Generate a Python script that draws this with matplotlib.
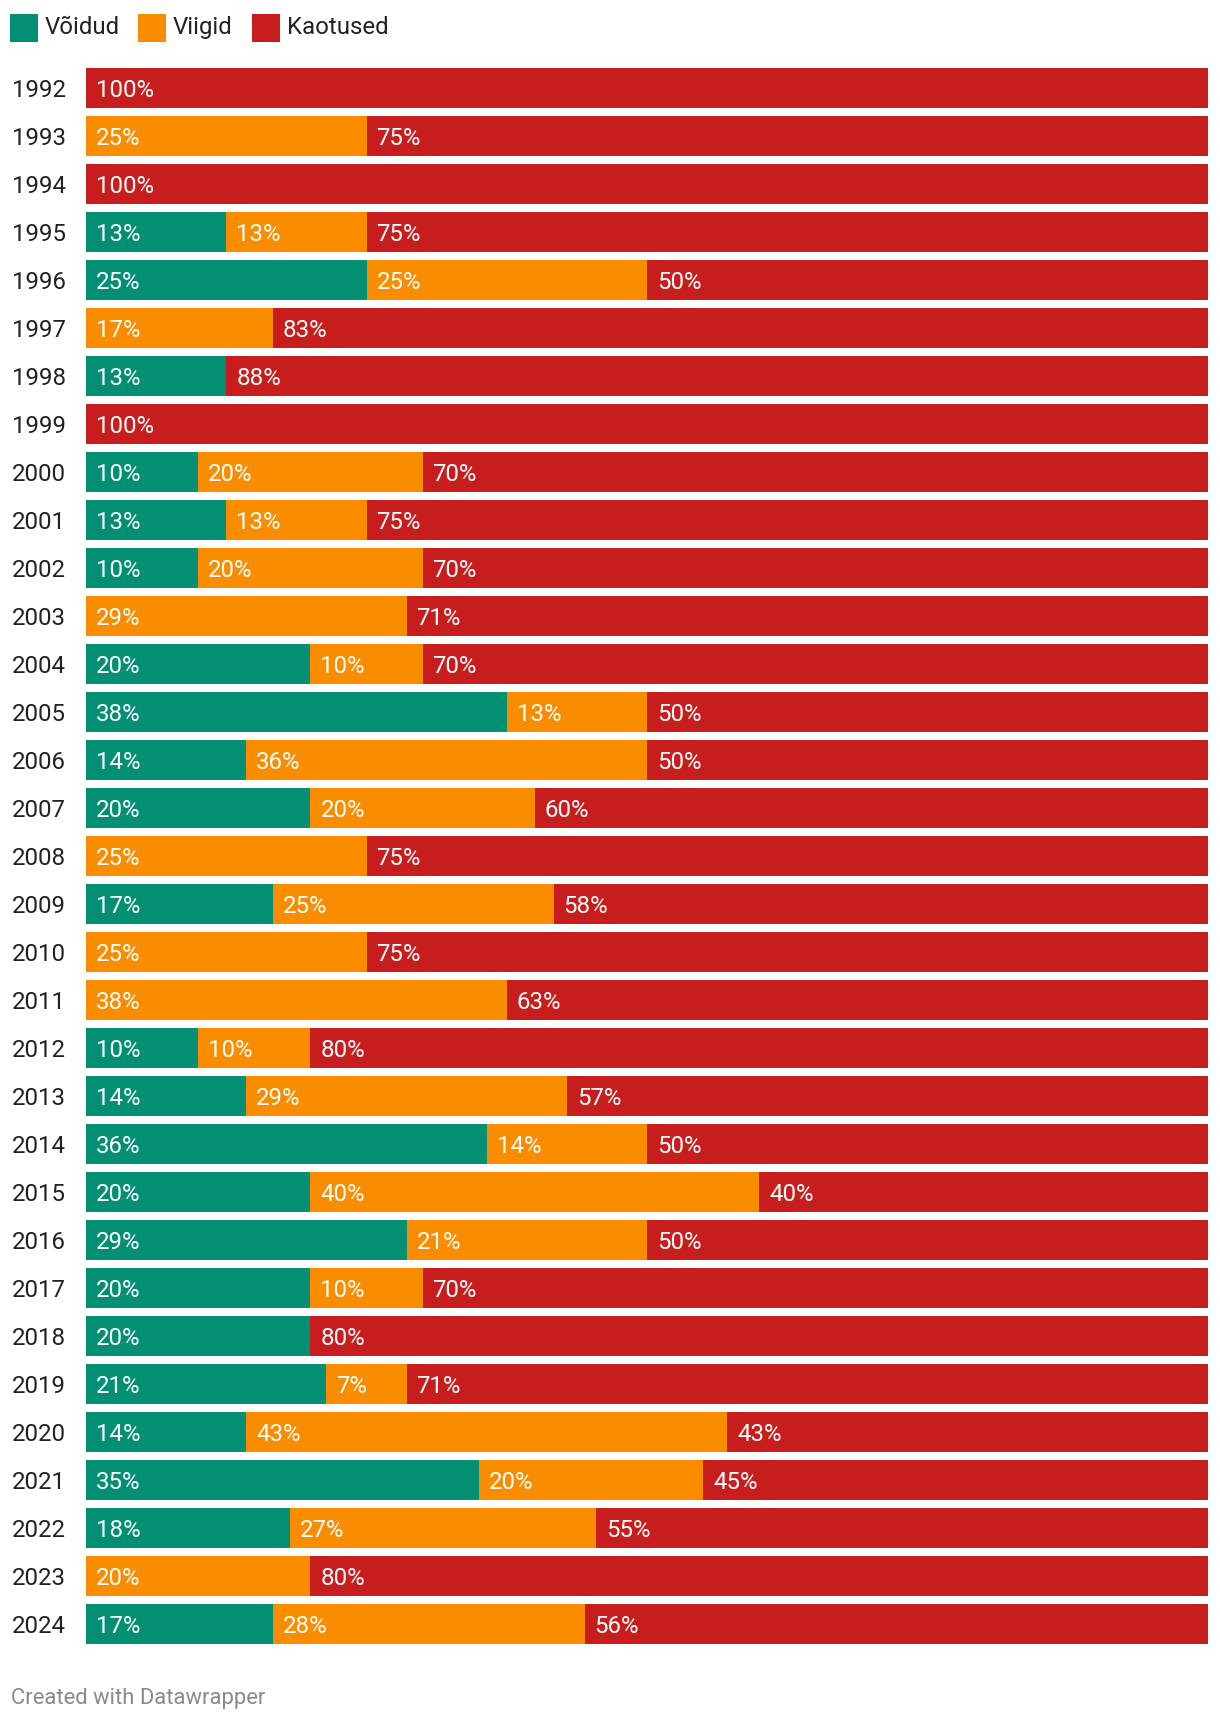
import matplotlib

matplotlib.use("Agg")
import matplotlib.pyplot as plt
import matplotlib.transforms as mtransforms
from matplotlib.patches import Rectangle

plt.rcParams["font.family"] = ["Roboto", "DejaVu Sans"]

years = list(range(1992, 2025))
# game counts per year: wins, draws, losses
wins = [0, 0, 0, 1, 1, 0, 1, 0, 1, 1, 1, 0, 2, 3, 2, 1, 0, 2, 0, 0, 1, 1, 5, 1, 4, 2, 1, 3, 1, 7, 2, 0, 3]
draws = [0, 1, 0, 1, 1, 1, 0, 0, 2, 1, 2, 2, 1, 1, 5, 1, 1, 3, 1, 3, 1, 2, 2, 2, 3, 1, 0, 1, 3, 4, 3, 1, 5]
losses = [1, 3, 1, 6, 2, 5, 7, 1, 7, 6, 7, 5, 7, 4, 7, 3, 3, 7, 3, 5, 8, 4, 7, 2, 7, 7, 4, 10, 3, 9, 6, 4, 10]

series_names = ["Võidud", "Viigid", "Kaotused"]
colors = ["#038f74", "#fa8c00", "#c71e1d"]

W, H = 1220, 1722
fig = plt.figure(figsize=(W / 100, H / 100), dpi=100)

bar_h = 40 / 48
n = len(years)
top_px, bot_px = 68, 68 + (n - 1) * 48 + 40
ax = fig.add_axes([86 / W, (H - bot_px) / H, (1208 - 86) / W, (bot_px - top_px) / H])
ax.set_xlim(0, 100)
ax.set_ylim(n - 1 + bar_h / 2, -bar_h / 2)
ax.axis("off")

FS = 17.3
for i, yr in enumerate(years):
    total = wins[i] + draws[i] + losses[i]
    left = 0.0
    for vals, col in zip([wins, draws, losses], colors):
        pct = vals[i] / total * 100
        if pct <= 0:
            continue
        ax.barh(i, pct, left=left, height=bar_h, color=col, linewidth=0)
        lab = f"{int(pct + 0.5)}%"
        ax.annotate(lab, xy=(left, i), xytext=(10, 0), textcoords="offset pixels",
                    ha="left", va="center_baseline", fontsize=FS, color="white")
        left += pct

trans = mtransforms.blended_transform_factory(fig.transFigure, ax.transData)
for i, yr in enumerate(years):
    ax.text(12 / W, i, str(yr), transform=trans, ha="left", va="center_baseline",
            fontsize=FS, color="#222222")

# legend
leg_x = [10, 138, 252]
for x0, name, col in zip(leg_x, series_names, colors):
    fig.patches.append(Rectangle((x0 / W, (H - 42) / H), 28 / W, 28 / H,
                                 transform=fig.transFigure, color=col, linewidth=0))
    fig.text((x0 + 35) / W, (H - 25) / H, name, ha="left", va="center_baseline",
             fontsize=FS, color="#222222")

fig.text(11 / W, (H - 1696) / H, "Created with Datawrapper", ha="left", va="center_baseline",
         fontsize=15.8, color="#8a8a8a")

fig.savefig("out.png", dpi=100)
